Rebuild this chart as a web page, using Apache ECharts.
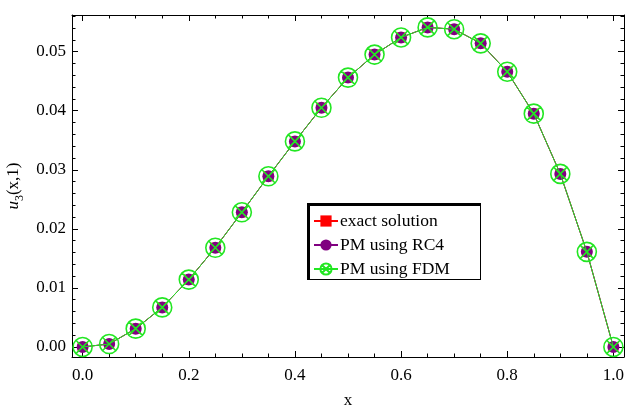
<!DOCTYPE html>
<html>
<head>
<meta charset="utf-8">
<script src="https://cdn.jsdelivr.net/npm/echarts@6/dist/echarts.min.js"></script>
<style>html,body{margin:0;padding:0;background:#fff}#c{width:625px;height:406px}</style>
</head>
<body>
<div id="c"></div>
<script>
var xValues = [0, 0.05, 0.1, 0.15, 0.2, 0.25, 0.3, 0.35, 0.4, 0.45, 0.5, 0.55, 0.6, 0.65, 0.7, 0.75, 0.8, 0.85, 0.9, 0.95, 1.0];
var exactSolution = [0, 0.0005, 0.0031, 0.0067, 0.0114, 0.0168, 0.0228, 0.0289, 0.0348, 0.0405, 0.0456, 0.0495, 0.0524, 0.0541, 0.0538, 0.0514, 0.0466, 0.0395, 0.0293, 0.0161, 0];
var pmRC4 = [0, 0.0005, 0.0031, 0.0067, 0.0114, 0.0168, 0.0228, 0.0289, 0.0348, 0.0405, 0.0456, 0.0495, 0.0524, 0.0541, 0.0538, 0.0514, 0.0466, 0.0395, 0.0293, 0.0161, 0];
var pmFDM = [0, 0.0005, 0.0031, 0.0067, 0.0114, 0.0168, 0.0228, 0.0289, 0.0348, 0.0405, 0.0456, 0.0495, 0.0524, 0.0541, 0.0538, 0.0514, 0.0466, 0.0395, 0.0293, 0.0161, 0];
var seriesNames = ['exact solution', 'PM using RC4', 'PM using FDM'];
var xMajorTicks = [0, 0.2, 0.4, 0.6, 0.8, 1.0];
var xMinorTicks = [0.05, 0.1, 0.15, 0.25, 0.3, 0.35, 0.45, 0.5, 0.55, 0.65, 0.7, 0.75, 0.85, 0.9, 0.95];
var yMajorTicks = [0, 0.01, 0.02, 0.03, 0.04, 0.05];
var yMinorTicks = [0.002, 0.004, 0.006, 0.008, 0.012, 0.014, 0.016, 0.018, 0.022, 0.024, 0.026, 0.028, 0.032, 0.034, 0.036, 0.038, 0.042, 0.044, 0.046, 0.048, 0.052, 0.054, 0.056];

var FONT = '"Liberation Serif", "Times New Roman", serif';
var X_MIN = -0.02, X_MAX = 1.02, Y_MIN = -0.0017, Y_MAX = 0.0562;
var GREEN = '#22e622';
var OTIMES = 'path://M0,10A10,10,0,1,1,20,10A10,10,0,1,1,0,10Z M2.93,2.93L17.07,17.07M17.07,2.93L2.93,17.07';

function pairs(ys) { return xValues.map(function (x, i) { return [x, ys[i]]; }); }

function xAx(pos, ticks, len, labels, line) {
  return {
    type: 'value', position: pos, min: X_MIN, max: X_MAX, gridIndex: 0,
    axisLine: { show: line, onZero: false, lineStyle: { color: '#000', width: 1 } },
    axisTick: { show: true, inside: true, length: len, customValues: ticks, lineStyle: { color: '#000', width: 1 } },
    axisLabel: labels ? { show: true, customValues: ticks, formatter: function (v) { return v.toFixed(1); }, color: '#000', fontFamily: FONT, fontSize: 17, margin: 10 } : { show: false },
    splitLine: { show: false }
  };
}
function yAx(pos, ticks, len, labels, line) {
  return {
    type: 'value', position: pos, min: Y_MIN, max: Y_MAX, gridIndex: 0,
    axisLine: { show: line, onZero: false, lineStyle: { color: '#000', width: 1 } },
    axisTick: { show: true, inside: true, length: len, customValues: ticks, lineStyle: { color: '#000', width: 1 } },
    axisLabel: labels ? { show: true, customValues: ticks, formatter: function (v) { return v.toFixed(2); }, color: '#000', fontFamily: FONT, fontSize: 17, margin: 6 } : { show: false },
    splitLine: { show: false }
  };
}

var xAxes = [
  xAx('bottom', xMajorTicks, 6, true, true),
  xAx('bottom', xMinorTicks, 3.5, false, false),
  xAx('top', xMajorTicks, 6, false, true),
  xAx('top', xMinorTicks, 3.5, false, false)
];
xAxes[0].name = 'x';
xAxes[0].nameLocation = 'middle';
xAxes[0].nameGap = 35;
xAxes[0].nameTextStyle = { fontFamily: FONT, fontSize: 17, color: '#000' };

var yAxes = [
  yAx('left', yMajorTicks, 6, true, true),
  yAx('left', yMinorTicks, 3.5, false, false),
  yAx('right', yMajorTicks, 6, false, true),
  yAx('right', yMinorTicks, 3.5, false, false)
];
yAxes[0].name = '{i|u}{s|3}{n|(x,1)}';
yAxes[0].nameLocation = 'middle';
yAxes[0].nameRotate = 90;
yAxes[0].nameGap = 39;
yAxes[0].nameTextStyle = {
  fontFamily: FONT, fontSize: 17, color: '#000',
  rich: {
    i: { fontFamily: FONT, fontSize: 17, fontStyle: 'italic', color: '#000', verticalAlign: 'top', lineHeight: 20 },
    s: { fontFamily: FONT, fontSize: 12, color: '#000', verticalAlign: 'bottom', lineHeight: 20 },
    n: { fontFamily: FONT, fontSize: 17, color: '#000', verticalAlign: 'top', lineHeight: 20 }
  }
};

var chart = echarts.init(document.getElementById('c'), null, { renderer: 'canvas' });
chart.setOption({
  animation: false,
  backgroundColor: '#fff',
  grid: { left: 72, right: 1, top: 15, bottom: 49, containLabel: false, outerBoundsMode: 'none' },
  xAxis: xAxes,
  yAxis: yAxes,
  legend: {
    left: 308, top: 207, orient: 'vertical', itemWidth: 24, itemHeight: 14, itemGap: 6,
    textStyle: { fontFamily: FONT, fontSize: 17.5, color: '#000', padding: [0, 0, 0, -3] },
    data: seriesNames,
    z: 10
  },
  graphic: [
    { type: 'rect', shape: { x: 307, y: 203, width: 174, height: 77 }, style: { fill: '#000' }, z: 5 },
    { type: 'rect', shape: { x: 310, y: 206, width: 170, height: 73 }, style: { fill: '#fff' }, z: 6 }
  ],
  series: [
    {
      name: seriesNames[0], type: 'line', xAxisIndex: 0, yAxisIndex: 0, data: pairs(exactSolution),
      symbol: 'rect', symbolSize: 10, showAllSymbol: true,
      lineStyle: { color: '#ff0000', width: 1 }, itemStyle: { color: '#ff0000' }, z: 2
    },
    {
      name: seriesNames[1], type: 'line', xAxisIndex: 0, yAxisIndex: 0, data: pairs(pmRC4),
      symbol: 'circle', symbolSize: 12, showAllSymbol: true,
      lineStyle: { color: '#800080', width: 1 }, itemStyle: { color: '#800080' }, z: 3
    },
    {
      name: seriesNames[2], type: 'line', xAxisIndex: 0, yAxisIndex: 0, data: pairs(pmFDM),
      symbol: OTIMES, symbolSize: 19, showAllSymbol: true,
      lineStyle: { color: GREEN, width: 1 },
      itemStyle: { color: 'rgba(0,0,0,0)', borderColor: GREEN, borderWidth: 1.6 }, z: 4
    }
  ]
});
</script>
</body>
</html>
